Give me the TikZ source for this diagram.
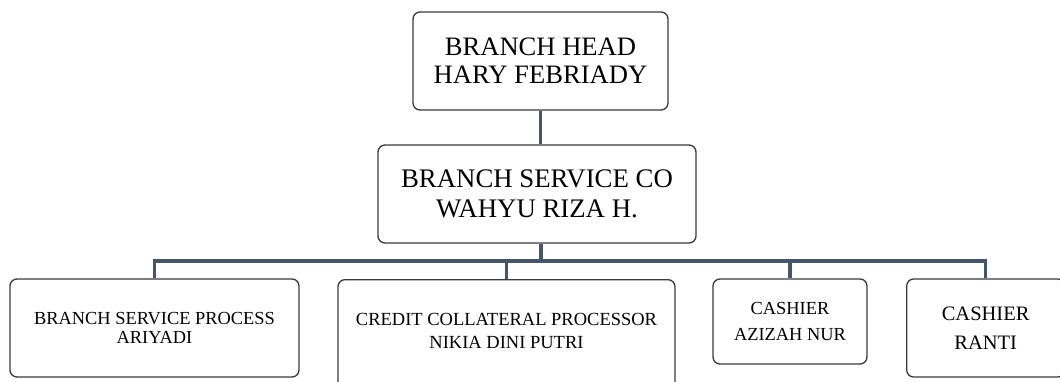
\documentclass[tikz,border=0pt]{standalone}
\usepackage{fontspec}
\setmainfont{Liberation Serif}
\usepackage{xcolor}
\usepackage{tikz}
\usetikzlibrary{calc,positioning}
\definecolor{edge}{HTML}{3A3A3A}
\definecolor{link}{HTML}{465569}

\begin{document}
\begin{tikzpicture}[x=1pt, y=-1pt,
    unitbox/.style={draw=edge, line width=1.3pt, rounded corners=7pt, fill=white,
      align=center, inner sep=0pt},
    wire/.style={draw=link, line width=3pt}]
  \useasboundingbox (0,0) rectangle (1060,382);
  \clip (0,0) rectangle (1060,382);

  \node[unitbox, minimum width=255pt, minimum height=98pt,
    font=\fontsize{26.6}{28}\selectfont] (head) at (540.5,61)
    {BRANCH HEAD\\HARY FEBRIADY};
  \node[unitbox, minimum width=318pt, minimum height=98pt,
    font=\fontsize{26.8}{29.5}\selectfont] (bsco) at (537,194)
    {BRANCH SERVICE CO\\WAHYU RIZA H.};

  \node[unitbox, minimum width=289pt, minimum height=98pt,
    font=\fontsize{18.4}{19.5}\selectfont] (bsp) at (154.5,328)
    {BRANCH SERVICE PROCESS\\ARIYADI};
  \node[unitbox, anchor=north, minimum width=337pt, text height=69pt, text depth=61pt,
    font=\fontsize{18.5}{23}\selectfont] (ccp) at (506.5,279)
    {CREDIT COLLATERAL PROCESSOR\\NIKIA DINI PUTRI};
  \node[unitbox, minimum width=154pt, minimum height=85pt,
    font=\fontsize{18.4}{26}\selectfont] (azizah) at (790,321.5)
    {CASHIER\\AZIZAH NUR};
  \node[unitbox, anchor=west, minimum width=158pt, minimum height=98pt,
    font=\fontsize{20.5}{29}\selectfont] (ranti) at (906,328)
    {CASHIER\\RANTI};

  % connectors
  \coordinate (bus) at (541,261);
  \draw[wire] (head.south) -- (head.south |- bsco.north);
  \draw[wire, line width=3.5pt] (bsco.south -| bus) -- (bus);
  \foreach \staff in {bsp,ccp,azizah,ranti}
    \draw[wire, line width=3.5pt] (\staff.north) |- (bus);
\end{tikzpicture}
\end{document}
